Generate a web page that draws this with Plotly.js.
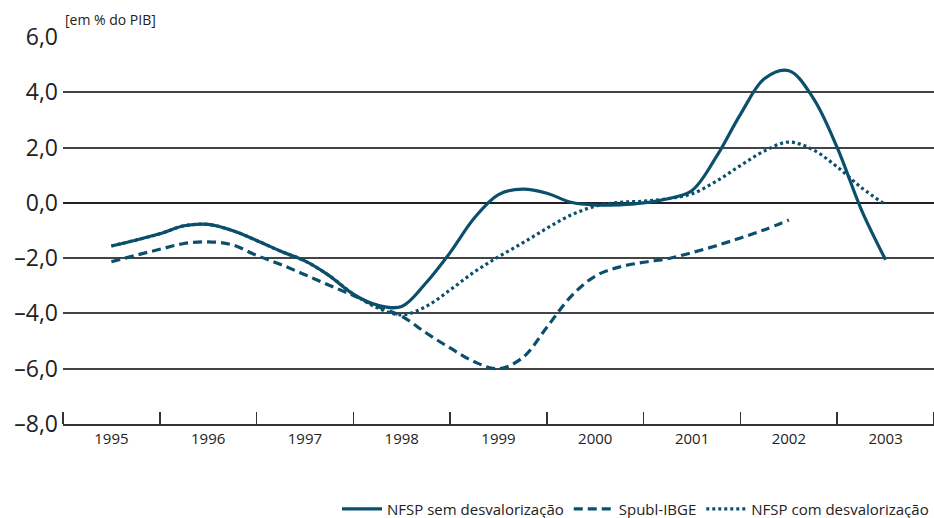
<!DOCTYPE html>
<html>
<head>
<meta charset="utf-8">
<script src="https://cdn.plot.ly/plotly-3.0.1.min.js"></script>
<style>html,body{margin:0;padding:0;background:#fff;}#chart{width:934px;height:518px;}</style>
</head>
<body>
<div id="chart"></div>
<script>
// Quarterly positions (fraction of years)
const xQuarters = [1995,1995.25,1995.5,1995.75,1996,1996.25,1996.5,1996.75,1997,1997.25,1997.5,1997.75,
  1998,1998.25,1998.5,1998.75,1999,1999.25,1999.5,1999.75,2000,2000.25,2000.5,2000.75,
  2001,2001.25,2001.5,2001.75,2002,2002.25,2002.5,2002.75,2003];
const xSpubl = [1995,1995.25,1995.5,1995.75,1996,1996.25,1996.5,1996.75,1997,1997.25,1997.5,1997.75,
  1998,1998.25,1998.5,1998.75,1999,1999.25,1999.5,1999.75,2000,2000.25,2000.5,2000.75,
  2001,2001.25,2001.5,2001.75,2002];

const nfspSem = [-1.56,-1.35,-1.12,-0.83,-0.78,-1.0,-1.36,-1.75,-2.1,-2.63,-3.3,-3.7,
  -3.75,-2.9,-1.8,-0.55,0.3,0.5,0.35,0.02,-0.08,-0.07,0.0,0.15,
  0.45,1.66,3.2,4.5,4.78,3.8,2.0,-0.25,-2.06];
const spublIBGE = [-2.13,-1.9,-1.68,-1.47,-1.41,-1.52,-1.9,-2.23,-2.6,-2.98,-3.35,-3.75,
  -4.1,-4.7,-5.25,-5.75,-6.0,-5.6,-4.5,-3.38,-2.65,-2.32,-2.15,-2.02,
  -1.8,-1.55,-1.27,-0.97,-0.62];
const nfspCom = [-1.56,-1.35,-1.12,-0.83,-0.78,-1.0,-1.36,-1.75,-2.1,-2.63,-3.3,-3.8,
  -4.05,-3.75,-3.15,-2.5,-1.95,-1.45,-0.92,-0.44,-0.12,0.02,0.06,0.15,
  0.33,0.78,1.35,1.88,2.2,1.92,1.3,0.55,-0.07];

const yearLabels = ['1995','1996','1997','1998','1999','2000','2001','2002','2003'];
const yearVals = [1995,1996,1997,1998,1999,2000,2001,2002,2003];
const bandEdges = [1994.5,1995.5,1996.5,1997.5,1998.5,1999.5,2000.5,2001.5,2002.5,2003.5];
const yVals = [-8,-6,-4,-2,0,2,4,6];
const yLabels = ['\u20138,0','\u20136,0','\u20134,0','\u20132,0','0,0','2,0','4,0','6,0'];

const names = ['NFSP sem desvalorização','Spubl-IBGE','NFSP com desvalorização'];
const color = '#0b4f6c';
const font = '"Open Sans", "Noto Sans", sans-serif';

const traces = [
  {x: xQuarters, y: nfspSem, name: names[0], mode:'lines', line:{color:color, width:3.2, dash:'solid', shape:'spline', smoothing:1}},
  {x: xSpubl, y: spublIBGE, name: names[1], mode:'lines', line:{color:color, width:3.2, dash:'9px,5px', shape:'spline', smoothing:1}},
  {x: xQuarters, y: nfspCom, name: names[2], mode:'lines', line:{color:color, width:3.2, dash:'3px,3px', shape:'spline', smoothing:1}}
];

const layout = {
  width: 934, height: 518,
  margin: {l: 63, r: 0, t: 37, b: 94, autoexpand:false},
  paper_bgcolor: '#fff', plot_bgcolor: '#fff',
  font: {family: font, color: '#222'},
  showlegend: true,
  legend: {orientation:'h', x:1, xanchor:'right', y:-0.22, yanchor:'middle',
    font:{size:15, family:font, color:'#222'}, traceorder:'normal', itemwidth:40},
  xaxis: {
    range: [1994.5, 2003.5], fixedrange:true,
    tickmode:'array', tickvals: yearVals, ticktext: yearLabels,
    ticks:'', tickfont:{size:15, family:font, color:'#222'},
    showgrid:false, zeroline:false,
    showline:true, linecolor:'#333', linewidth:2,
    minor:{tickmode:'array', tickvals: bandEdges, ticks:'inside', ticklen:12, tickwidth:1.5, tickcolor:'#333', showgrid:false}
  },
  yaxis: {
    range: [-8, 6], fixedrange:true,
    tickmode:'array', tickvals: yVals, ticktext: yLabels,
    tickfont:{size:23, family:font, color:'#222'},
    ticks:'', showgrid:true, gridcolor:'#444', gridwidth:2,
    zeroline:true, zerolinecolor:'#222', zerolinewidth:2,
    showline:false, ticklabelstandoff:4
  },
  annotations: [{
    text:'[em % do PIB]', xref:'paper', yref:'paper', x:0, y:1, xanchor:'left', yanchor:'bottom',
    yshift:6, showarrow:false, font:{size:14, family:font, color:'#222'}
  }]
};

Plotly.newPlot('chart', traces, layout, {displayModeBar:false, staticPlot:true});
</script>
</body>
</html>
